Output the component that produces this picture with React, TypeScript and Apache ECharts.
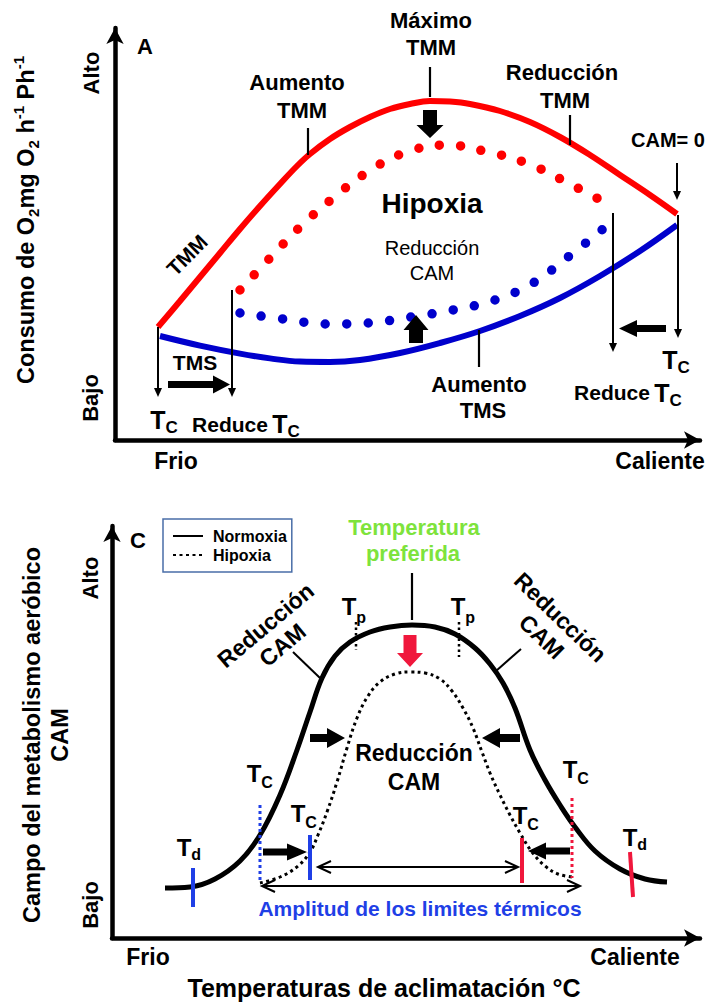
import React, { useEffect, useRef } from 'react';
import * as echarts from 'echarts';

const FONT = '"Liberation Sans", Arial, Helvetica, sans-serif';

// ---------- Panel A: O2 consumption vs temperature (x: frio -> caliente, y: bajo -> alto) ----------
const tmmNormoxia: number[][] = [
  [8.6, 28.25], [13, 34.75], [17, 40.75], [21, 46.75], [25, 52.75], [29, 58.5], [33, 64],
  [36.4, 68.5], [39, 71.5], [43, 75.25], [47, 78.25], [51, 80.75], [55, 82.75], [59, 84],
  [63, 84.75], [67, 84.6], [71, 84], [77, 82.25], [83, 79.5], [89, 75.75], [95, 71.25],
  [101, 66.25], [107, 61.25], [112.4, 56.5],
];
const tmsNormoxia: number[][] = [
  [9, 26], [17, 23.6], [25, 21.6], [31, 20.4], [37, 19.6], [43, 19.5], [49, 20], [57, 21.75],
  [65, 24.25], [73, 27.25], [81, 31], [89, 35.5], [97, 41], [105, 47.25], [112.4, 53.75],
];
const tmmHipoxia: number[][] = [
  [25, 37.5], [31, 45.5], [37, 53.25], [43.4, 60.25], [50.2, 66.75], [57.8, 71.75],
  [66.2, 73.75], [74.6, 72], [82.8, 69], [90.6, 64.25], [98.2, 59.25],
];
const tmsHipoxia: number[][] = [
  [25, 31.75], [33.6, 30.25], [42.2, 29], [50.6, 29.25], [59.2, 30.75], [67.6, 32.5],
  [76, 35], [83.6, 39.25], [90.6, 45.75], [97.6, 52.75],
];

// ---------- Panel C: aerobic scope (CAM) vs acclimation temperature ----------
const camNormoxia: number[][] = [
  [10.6, 12.5], [15.6, 12.75], [20.6, 14.75], [25.6, 19.25], [29.6, 25.75], [33.6, 35.75], [37, 47],
  [39.6, 56.5], [42, 65], [44.6, 70.5], [47.6, 74], [51.6, 76.5], [55.6, 77.75], [60, 78.25],
  [64.6, 77.75], [68.6, 76], [72.6, 72.5], [75.6, 68.5], [78.2, 63.75], [80.6, 57.5], [83.6, 47],
  [86.6, 39.5], [89.6, 33.25], [92.6, 27.75], [96.6, 21.75], [101.6, 17.25], [106.6, 14.75], [111, 14],
];
const camHipoxia: number[][] = [
  [29.6, 13.75], [33.6, 15.25], [37.2, 18], [39.6, 21.5], [41.2, 25.75], [43, 31.5], [45, 39],
  [47, 47.5], [49, 55], [51.2, 60.5], [53.6, 64], [56.6, 66], [59.6, 66.5], [62.6, 66.25],
  [65.6, 64.75], [68, 61.75], [70.2, 57.5], [72.2, 52.5], [74, 46.5], [75.6, 41.25], [77.6, 35.75],
  [79.6, 30.75], [81.6, 26.25], [84, 21.5], [86.6, 18], [89.2, 16], [92, 15.25],
];

const RED = '#ff0000';
const BLUE = '#0000cc';
const BLUE2 = '#1f3fe6';
const RED2 = '#f0173c';
const GREEN = '#7ee33c';
const DEG = Math.PI / 180;

const txt = (
  x: number, y: number, text: string, size: number,
  o: { weight?: string; color?: string; rot?: number; align?: string; lh?: number } = {}
) => ({
  type: 'text', x, y, rotation: o.rot ?? 0, z: 100,
  style: {
    text, fill: o.color ?? '#000', fontSize: size, fontWeight: o.weight ?? 'bold', fontFamily: FONT,
    align: o.align ?? 'center', verticalAlign: 'middle',
    textAlign: o.align ?? 'center', textVerticalAlign: 'middle',
    lineHeight: o.lh,
  },
});

// letter with a subscript, (x, y) is the centre of the main letter
const tsub = (x: number, y: number, main: string, sub: string, size = 24, subSize = 16, dy = 8, color = '#000') => [
  txt(x, y, main, size, { color }),
  txt(x + size * 0.3, y + dy, sub, subSize, { color, align: 'left' }),
];

const seg = (x1: number, y1: number, x2: number, y2: number, w = 2, color = '#000', dash?: number[]) => ({
  type: 'line', z: 90, shape: { x1, y1, x2, y2 },
  style: { stroke: color, lineWidth: w, lineDash: dash },
});

const blockArrow = (x1: number, y1: number, x2: number, y2: number, shaft: number, headW: number, headL: number, color = '#000') => {
  const L = Math.hypot(x2 - x1, y2 - y1);
  const ux = (x2 - x1) / L, uy = (y2 - y1) / L, px = -uy, py = ux;
  const bx = x2 - ux * headL, by = y2 - uy * headL;
  return {
    type: 'polygon', z: 95,
    shape: {
      points: [
        [x1 + px * shaft / 2, y1 + py * shaft / 2],
        [bx + px * shaft / 2, by + py * shaft / 2],
        [bx + px * headW / 2, by + py * headW / 2],
        [x2, y2],
        [bx - px * headW / 2, by - py * headW / 2],
        [bx - px * shaft / 2, by - py * shaft / 2],
        [x1 - px * shaft / 2, y1 - py * shaft / 2],
      ],
    },
    style: { fill: color },
  };
};

// thin line ending in a small filled head
const thinArrow = (x1: number, y1: number, x2: number, y2: number, w = 2, headL = 9, headW = 8) => {
  const L = Math.hypot(x2 - x1, y2 - y1);
  const ux = (x2 - x1) / L, uy = (y2 - y1) / L, px = -uy, py = ux;
  const bx = x2 - ux * headL, by = y2 - uy * headL;
  return [
    seg(x1, y1, bx + ux * 2, by + uy * 2, w),
    {
      type: 'polygon', z: 95,
      shape: { points: [[bx + px * headW / 2, by + py * headW / 2], [x2, y2], [bx - px * headW / 2, by - py * headW / 2]] },
      style: { fill: '#000' },
    },
  ];
};

// thin line with open chevron heads at both ends
const doubleArrow = (x1: number, y: number, x2: number, w = 2, L = 13, W = 6) => [
  seg(x1, y, x2, y, w),
  { type: 'polyline', z: 95, shape: { points: [[x1 + L, y - W], [x1, y], [x1 + L, y + W]] }, style: { stroke: '#000', lineWidth: w, fill: null } },
  { type: 'polyline', z: 95, shape: { points: [[x2 - L, y - W], [x2, y], [x2 - L, y + W]] }, style: { stroke: '#000', lineWidth: w, fill: null } },
];

const graphics: any[] = [
  // ----- Panel A -----
  txt(145, 46, 'A', 22),
  txt(91, 73, 'Alto', 22, { rot: Math.PI / 2 }),
  txt(90, 398, 'Bajo', 22, { rot: Math.PI / 2 }),
  {
    type: 'text', x: 26, y: 220, rotation: Math.PI / 2, z: 100,
    style: {
      text: '{n|Consumo de O}{s|2}{n|mg O}{s|2}{n| h}{p|-1}{n| Ph}{p|-1}',
      fontFamily: FONT, fontWeight: 'bold', fill: '#000',
      align: 'center', verticalAlign: 'middle', textAlign: 'center', textVerticalAlign: 'middle',
      rich: {
        n: { fontSize: 23.5, fontWeight: 'bold', fontFamily: FONT, lineHeight: 30, fill: '#000' },
        s: { fontSize: 15, fontWeight: 'bold', fontFamily: FONT, lineHeight: 14, verticalAlign: 'bottom', fill: '#000' },
        p: { fontSize: 15, fontWeight: 'bold', fontFamily: FONT, lineHeight: 14, verticalAlign: 'top', fill: '#000' },
      },
    },
  },
  txt(176, 461, 'Frio', 23),
  txt(660, 461, 'Caliente', 23),
  txt(431, 20, 'Máximo', 22), txt(431, 47, 'TMM', 22),
  txt(297, 82, 'Aumento', 22), txt(302, 110, 'TMM', 22),
  txt(562, 72, 'Reducción', 22), txt(565, 100, 'TMM', 22),
  txt(668, 140, 'CAM= 0', 20),
  txt(187, 255, 'TMM', 21, { rot: Math.PI / 4 }),
  txt(432, 203, 'Hipoxia', 28),
  txt(432, 248, 'Reducción', 20, { weight: 'normal' }), txt(432, 273, 'CAM', 20, { weight: 'normal' }),
  txt(195, 362, 'TMS', 21),
  ...tsub(158, 420, 'T', 'C', 25, 17, 7),
  txt(230, 424, 'Reduce', 21), ...tsub(280, 424, 'T', 'C', 25, 17, 7),
  ...tsub(670, 360, 'T', 'C', 25, 17, 7),
  txt(612, 392, 'Reduce', 21), ...tsub(662, 393, 'T', 'C', 25, 17, 7),
  txt(479, 384, 'Aumento', 22), txt(483, 410, 'TMS', 22),
  seg(430, 67, 430, 97, 2.2), seg(308, 128, 308, 155, 2.2), seg(570, 115, 570, 145, 2.2), seg(479, 330, 479, 367, 2.2),
  ...thinArrow(158, 327, 158, 397), ...thinArrow(232, 290, 232, 397),
  ...thinArrow(613, 213, 613, 352), ...thinArrow(678, 215, 678, 338),
  ...thinArrow(677, 163, 677, 200),
  blockArrow(430, 110, 430, 138, 14, 27, 13),
  blockArrow(416, 343, 416, 315, 14, 25, 15),
  blockArrow(168, 384.5, 230, 384.5, 7, 18, 17),
  blockArrow(666, 328.5, 619, 328.5, 7, 17, 18),

  // ----- Panel C -----
  txt(138, 540, 'C', 22),
  txt(90, 578, 'Alto', 22, { rot: Math.PI / 2 }),
  txt(90, 905, 'Bajo', 22, { rot: Math.PI / 2 }),
  txt(46, 735, 'Campo del metabolismo aeróbico\nCAM', 23.5, { rot: Math.PI / 2, lh: 28 }),
  txt(148, 957, 'Frio', 23), txt(635, 957, 'Caliente', 23),
  txt(384, 988, 'Temperaturas de aclimatación °C', 25),
  txt(414, 527, 'Temperatura', 22, { color: GREEN }), txt(413, 553, 'preferida', 22, { color: GREEN }),
  seg(412, 573, 412, 620, 2.2),
  ...tsub(349, 606, 'T', 'p', 24, 16, 11), ...tsub(458, 606, 'T', 'p', 24, 16, 11),
  seg(356, 622, 356, 650, 2.5, '#000', [2.5, 3]), seg(459, 622, 459, 657, 2.5, '#000', [2.5, 3]),
  blockArrow(410, 635, 410, 667, 13, 26, 14, RED2),
  txt(274, 635, 'Reducción\nCAM', 23, { rot: 40 * DEG, lh: 26 }),
  seg(293, 652, 320, 678, 2),
  txt(551, 627, 'Reducción\nCAM', 23, { rot: -44 * DEG, lh: 27 }),
  seg(521, 649, 496, 671, 2),
  blockArrow(310, 738, 345, 738, 8, 20, 18), blockArrow(520, 738, 482, 738, 8, 20, 18),
  txt(414, 753, 'Reducción', 23), txt(414, 782, 'CAM', 23),
  ...tsub(254, 773, 'T', 'C', 24, 16, 9), ...tsub(298, 813, 'T', 'C', 24, 16, 9),
  ...tsub(520, 815, 'T', 'C', 24, 16, 9), ...tsub(570, 769, 'T', 'C', 24, 16, 9),
  ...tsub(184, 847, 'T', 'd', 24, 16, 7), ...tsub(630, 837, 'T', 'd', 24, 16, 7),
  seg(260, 805, 260, 882, 3, BLUE2, [3, 3]), seg(310, 835, 310, 880, 4, BLUE2), seg(193, 868, 193, 907, 4, BLUE2),
  seg(572, 798, 572, 878, 3, RED2, [3, 3]), seg(522, 838, 522, 883, 4, RED2), seg(630, 852, 633, 897, 4, RED2),
  blockArrow(263, 852, 307, 852, 7, 17, 20), blockArrow(570, 851, 528, 851, 7, 17, 18),
  ...doubleArrow(318, 867, 518), ...doubleArrow(262, 886, 580),
  txt(420, 908, 'Amplitud de los limites térmicos', 21, { color: BLUE2 }),
];

const axisBase = {
  type: 'value' as const,
  splitLine: { show: false }, axisTick: { show: false }, axisLabel: { show: false },
  axisLine: { show: true, onZero: false, symbol: ['none', 'arrow'], symbolSize: [13, 16], lineStyle: { color: '#000', width: 4.5 } },
};

const dots = (w: number, gap: number) => ({ width: w, type: [0, gap], cap: 'round' });

const option: any = {
  animation: false,
  backgroundColor: '#fff',
  grid: [
    { left: 115, top: 28, width: 585, height: 412, containLabel: false, outerBoundsMode: 'none' },
    { left: 112, top: 526, width: 588, height: 412, containLabel: false, outerBoundsMode: 'none' },
  ],
  xAxis: [
    { ...axisBase, gridIndex: 0, min: 0, max: 117 },
    { ...axisBase, gridIndex: 1, min: 0, max: 117.6 },
  ],
  yAxis: [
    { ...axisBase, gridIndex: 0, min: 0, max: 103 },
    { ...axisBase, gridIndex: 1, min: 0, max: 103 },
  ],
  legend: {
    data: ['Normoxia', 'Hipoxia'],
    left: 163, top: 519, orient: 'vertical',
    padding: [9, 5, 9, 9], itemGap: 3, itemWidth: 30, itemHeight: 14,
    borderColor: '#4a6ea8', borderWidth: 1.5, backgroundColor: '#fff',
    itemStyle: { opacity: 0 },
    textStyle: { fontFamily: FONT, fontWeight: 'bold', fontSize: 16, color: '#000', padding: [0, 0, 0, 5] },
  },
  series: [
    { name: 'TMM', type: 'line', xAxisIndex: 0, yAxisIndex: 0, data: tmmNormoxia, smooth: 0.4, symbol: 'none', lineStyle: { color: RED, width: 6 }, z: 3 },
    { name: 'TMS', type: 'line', xAxisIndex: 0, yAxisIndex: 0, data: tmsNormoxia, smooth: 0.4, symbol: 'none', lineStyle: { color: BLUE, width: 6 }, z: 3 },
    { name: 'TMM hipoxia', type: 'line', xAxisIndex: 0, yAxisIndex: 0, data: tmmHipoxia, smooth: 0.4, symbol: 'none', lineStyle: { color: RED, ...dots(9.5, 21) }, z: 3 },
    { name: 'TMS hipoxia', type: 'line', xAxisIndex: 0, yAxisIndex: 0, data: tmsHipoxia, smooth: 0.4, symbol: 'none', lineStyle: { color: BLUE, ...dots(9.5, 21.5) }, z: 3 },
    { name: 'Normoxia', type: 'line', xAxisIndex: 1, yAxisIndex: 1, data: camNormoxia, smooth: 0.4, symbol: 'none', itemStyle: { color: '#000' }, lineStyle: { color: '#000', width: 5 }, z: 3 },
    { name: 'Hipoxia', type: 'line', xAxisIndex: 1, yAxisIndex: 1, data: camHipoxia, smooth: 0.4, symbol: 'none', itemStyle: { color: '#000' }, lineStyle: { color: '#000', width: 3, type: [3, 3.5] }, z: 3 },
  ],
  graphic: { elements: graphics },
};

export default function App() {
  const ref = useRef<HTMLDivElement>(null);
  useEffect(() => {
    const chart = echarts.init(ref.current!, null, { renderer: 'svg' });
    chart.setOption(option);
    return () => chart.dispose();
  }, []);
  return <div ref={ref} style={{ position: 'absolute', left: 0, top: 0, width: 710, height: 1002, background: '#fff' }} />;
}
